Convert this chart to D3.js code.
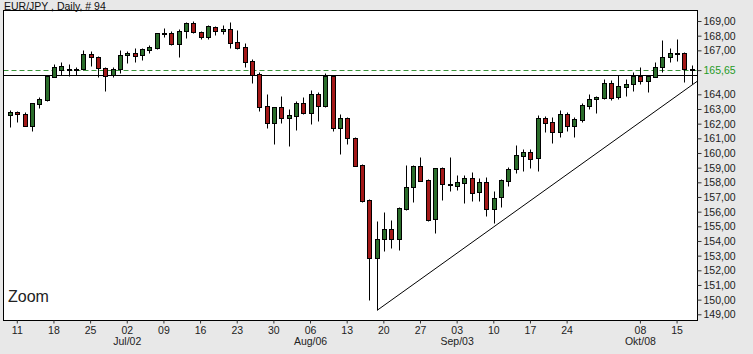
<!DOCTYPE html>
<html>
<head>
<meta charset="utf-8">
<script src="https://cdn.jsdelivr.net/npm/d3@7"></script>
<style>
  body { margin: 0; background: #e8e8e8; }
  text { font-family: "Liberation Sans", Arial, sans-serif; }
</style>
</head>
<body>
<div id="chart"></div>
<script>
// Daily candles: [date, open, high, low, close]
const ohlc = [
  ["2007-06-08", 162.57, 162.93, 161.80, 162.79],
  ["2007-06-11", 162.79, 162.86, 162.13, 162.64],
  ["2007-06-12", 162.66, 162.77, 161.84, 161.86],
  ["2007-06-13", 161.86, 163.40, 161.52, 163.39],
  ["2007-06-14", 163.34, 163.80, 163.09, 163.68],
  ["2007-06-15", 163.61, 165.30, 163.57, 165.25],
  ["2007-06-18", 165.18, 166.07, 165.16, 165.88],
  ["2007-06-19", 165.64, 166.20, 165.32, 165.93],
  ["2007-06-20", 165.64, 166.07, 165.25, 165.70],
  ["2007-06-21", 165.64, 165.88, 165.32, 165.75],
  ["2007-06-22", 165.70, 167.02, 165.66, 166.75],
  ["2007-06-25", 166.75, 166.95, 165.93, 166.52],
  ["2007-06-26", 166.52, 166.61, 165.16, 165.82],
  ["2007-06-27", 165.82, 165.88, 164.25, 165.25],
  ["2007-06-28", 165.32, 165.88, 165.16, 165.70],
  ["2007-06-29", 165.70, 167.02, 165.48, 166.68],
  ["2007-07-02", 166.66, 166.97, 166.16, 166.84],
  ["2007-07-03", 166.84, 167.18, 166.22, 166.63],
  ["2007-07-04", 166.66, 167.18, 166.34, 167.09],
  ["2007-07-05", 167.02, 167.34, 166.80, 167.23],
  ["2007-07-06", 167.18, 168.18, 167.07, 168.16],
  ["2007-07-09", 168.20, 168.54, 167.93, 168.16],
  ["2007-07-10", 168.16, 168.34, 167.38, 167.41],
  ["2007-07-11", 167.41, 168.43, 166.52, 168.34],
  ["2007-07-12", 168.34, 168.91, 167.82, 168.84],
  ["2007-07-13", 168.84, 169.00, 168.16, 168.23],
  ["2007-07-16", 168.25, 168.34, 167.75, 167.89],
  ["2007-07-17", 167.89, 168.73, 167.75, 168.66],
  ["2007-07-18", 168.61, 168.66, 168.05, 168.34],
  ["2007-07-19", 168.34, 168.73, 168.09, 168.43],
  ["2007-07-20", 168.43, 168.91, 167.18, 167.52],
  ["2007-07-23", 167.55, 168.39, 167.07, 167.18],
  ["2007-07-24", 167.21, 167.48, 165.88, 166.22],
  ["2007-07-25", 166.27, 166.39, 164.75, 165.32],
  ["2007-07-26", 165.39, 165.54, 162.88, 163.16],
  ["2007-07-27", 163.20, 164.00, 161.68, 162.07],
  ["2007-07-30", 162.07, 163.14, 160.61, 163.11],
  ["2007-07-31", 163.11, 163.89, 162.07, 162.36],
  ["2007-08-01", 162.36, 163.00, 160.50, 162.59],
  ["2007-08-02", 162.54, 163.55, 161.57, 163.39],
  ["2007-08-03", 163.39, 163.80, 162.66, 162.75],
  ["2007-08-06", 162.75, 164.30, 161.98, 164.00],
  ["2007-08-07", 164.00, 164.14, 162.20, 163.22],
  ["2007-08-08", 163.20, 165.43, 163.11, 165.27],
  ["2007-08-09", 165.27, 165.30, 161.52, 161.68],
  ["2007-08-10", 161.68, 162.66, 159.93, 162.36],
  ["2007-08-13", 162.36, 162.43, 160.61, 161.00],
  ["2007-08-14", 161.00, 161.07, 159.11, 159.13],
  ["2007-08-15", 159.18, 159.23, 156.68, 156.73],
  ["2007-08-16", 156.79, 156.86, 149.97, 152.86],
  ["2007-08-17", 152.86, 155.36, 149.29, 154.11],
  ["2007-08-20", 154.11, 155.96, 153.34, 154.82],
  ["2007-08-21", 154.82, 155.43, 153.50, 154.11],
  ["2007-08-22", 154.11, 156.34, 153.38, 156.27],
  ["2007-08-23", 156.18, 159.18, 156.13, 157.66],
  ["2007-08-24", 157.66, 159.18, 156.64, 159.11],
  ["2007-08-27", 159.11, 159.75, 158.09, 158.11],
  ["2007-08-28", 158.16, 158.20, 155.38, 155.43],
  ["2007-08-29", 155.48, 158.98, 154.56, 158.96],
  ["2007-08-30", 158.96, 159.02, 156.79, 157.86],
  ["2007-08-31", 157.80, 159.70, 157.43, 157.89],
  ["2007-09-03", 157.77, 158.50, 157.48, 158.00],
  ["2007-09-04", 157.98, 158.50, 156.57, 158.27],
  ["2007-09-05", 158.27, 158.68, 156.75, 157.29],
  ["2007-09-06", 157.32, 158.27, 156.75, 158.00],
  ["2007-09-07", 158.00, 158.39, 155.72, 156.16],
  ["2007-09-10", 156.16, 157.41, 155.20, 156.95],
  ["2007-09-11", 156.98, 158.20, 156.34, 158.16],
  ["2007-09-12", 158.11, 159.02, 157.77, 158.93],
  ["2007-09-13", 158.89, 160.55, 158.61, 159.86],
  ["2007-09-14", 159.82, 160.25, 158.79, 160.05],
  ["2007-09-17", 160.05, 160.27, 159.00, 159.61],
  ["2007-09-18", 159.64, 162.59, 158.79, 162.36],
  ["2007-09-19", 162.36, 162.52, 161.41, 162.07],
  ["2007-09-20", 162.09, 162.43, 160.70, 161.41],
  ["2007-09-21", 161.41, 162.93, 161.11, 162.66],
  ["2007-09-24", 162.66, 162.82, 161.52, 161.84],
  ["2007-09-25", 161.84, 162.48, 161.07, 162.30],
  ["2007-09-26", 162.25, 163.43, 162.11, 163.27],
  ["2007-09-27", 163.22, 164.02, 163.00, 163.66],
  ["2007-09-28", 163.66, 163.89, 162.70, 163.80],
  ["2007-10-01", 163.73, 165.05, 163.66, 164.79],
  ["2007-10-02", 164.79, 164.98, 163.61, 163.73],
  ["2007-10-03", 163.84, 165.32, 163.66, 164.57],
  ["2007-10-04", 164.52, 165.05, 163.91, 164.70],
  ["2007-10-05", 164.68, 165.50, 164.23, 165.25],
  ["2007-10-08", 165.25, 165.84, 164.68, 164.93],
  ["2007-10-09", 164.93, 165.32, 164.18, 165.25],
  ["2007-10-10", 165.20, 166.23, 165.16, 165.84],
  ["2007-10-11", 165.84, 167.70, 165.54, 166.52],
  ["2007-10-12", 166.52, 167.14, 166.18, 166.84],
  ["2007-10-15", 166.80, 167.77, 166.27, 166.82],
  ["2007-10-16", 166.80, 166.91, 164.86, 165.71],
  ["2007-10-17", 165.76, 166.00, 164.68, 165.65]
];

// Weekly ticks (Mondays) and their labels
const weekTicks = ["2007-06-11", "2007-06-18", "2007-06-25", "2007-07-02", "2007-07-09", "2007-07-16",
  "2007-07-23", "2007-07-30", "2007-08-06", "2007-08-13", "2007-08-20", "2007-08-27", "2007-09-03",
  "2007-09-10", "2007-09-17", "2007-09-24", "2007-10-08", "2007-10-15"];
const weekLabels = ["11", "18", "25", "02", "09", "16", "23", "30", "06", "13", "20", "27", "03",
  "10", "17", "24", "08", "15"];
const monthTicks = ["2007-07-02", "2007-08-06", "2007-09-03", "2007-10-08"];
const monthLabels = ["Jul/02", "Aug/06", "Sep/03", "Okt/08"];

// Price axis
const yTicks = [149, 150, 151, 152, 153, 154, 155, 156, 157, 158, 159, 160, 161, 162, 163, 164, 167, 168, 169];
const lastPrice = 165.65;
const levelLine = 165.32;
// Trend line anchors: [date, price]
const trendStart = ["2007-08-17", 149.29];
const trendEnd = ["2007-10-17", 164.66];

const W = 753, H = 354;
const plot = { left: 3.5, top: 10.5, right: 697.5, bottom: 320.5 };
const fmt = v => v.toFixed(2).replace(".", ",");

const svg = d3.select("#chart")
    .append("svg")
    .attr("width", W)
    .attr("height", H);

svg.append("rect")
    .attr("width", W).attr("height", H)
    .attr("fill", "#e8e8e8");

// Plot area
svg.append("rect")
    .attr("x", plot.left).attr("y", plot.top)
    .attr("width", plot.right - plot.left)
    .attr("height", plot.bottom - plot.top)
    .attr("fill", "#fff");

const x = d3.scaleBand()
    .domain(ohlc.map(d => d[0]))
    .range([6.3, 695.4])
    .paddingInner(0.32)
    .paddingOuter(0.16);

const y = d3.scaleLinear()
    .domain([149, 169])
    .range([314.3, 21]);

const cx = d => Math.round(x(d) + x.bandwidth() / 2);
const py = v => Math.round(y(v)) + 0.5;

// Level lines
svg.append("line")
    .attr("x1", plot.left).attr("x2", plot.right)
    .attr("y1", py(lastPrice)).attr("y2", py(lastPrice))
    .attr("stroke", "#3a923a")
    .attr("stroke-dasharray", "5,3");

svg.append("line")
    .attr("x1", plot.left).attr("x2", plot.right)
    .attr("y1", py(levelLine)).attr("y2", py(levelLine))
    .attr("stroke", "#000");

// Trend line, extended to the right edge of the plot
const tx1 = cx(trendStart[0]) + 0.5, ty1 = y(trendStart[1]);
const tx2 = cx(trendEnd[0]) + 0.5, ty2 = y(trendEnd[1]);
const slope = (ty2 - ty1) / (tx2 - tx1);
svg.append("line")
    .attr("x1", tx1).attr("y1", ty1)
    .attr("x2", plot.right).attr("y2", ty1 + slope * (plot.right - tx1))
    .attr("stroke", "#000");

// Candles
const candles = svg.append("g")
    .selectAll("g")
    .data(ohlc)
    .enter()
    .append("g");

candles.append("line")
    .attr("x1", d => cx(d[0]) + 0.5)
    .attr("x2", d => cx(d[0]) + 0.5)
    .attr("y1", d => py(d[2]))
    .attr("y2", d => py(d[3]))
    .attr("stroke", "#000");

candles.append("rect")
    .attr("x", d => cx(d[0]) - 1.5)
    .attr("width", 4)
    .attr("y", d => py(Math.max(d[1], d[4])))
    .attr("height", d => Math.max(1, py(Math.min(d[1], d[4])) - py(Math.max(d[1], d[4]))))
    .attr("fill", d => d[4] >= d[1] ? "#2b6d2b" : "#a31818")
    .attr("stroke", "#000");

// Plot border
svg.append("rect")
    .attr("x", plot.left).attr("y", plot.top)
    .attr("width", plot.right - plot.left)
    .attr("height", plot.bottom - plot.top)
    .attr("fill", "none")
    .attr("stroke", "#000");

// Right price axis
const yAxis = svg.append("g")
    .attr("transform", `translate(${plot.right},0)`)
    .call(d3.axisRight(y).tickValues(yTicks).tickSize(4).tickPadding(2).tickFormat(fmt));
yAxis.select(".domain").remove();
yAxis.selectAll("text").attr("fill", "#222").style("font-size", "10.5px");
yAxis.selectAll("line").attr("stroke", "#333");

const lastTick = svg.append("g")
    .attr("transform", `translate(${plot.right},0)`)
    .call(d3.axisRight(y).tickValues([lastPrice]).tickSize(4).tickPadding(2).tickFormat(fmt));
lastTick.select(".domain").remove();
lastTick.selectAll("text").attr("fill", "#1f9a1f").style("font-size", "10.5px");
lastTick.selectAll("line").attr("stroke", "#333");

// Bottom date axis
const xAxis = svg.append("g")
    .attr("transform", `translate(0,${plot.bottom})`)
    .call(d3.axisBottom(x).tickValues(weekTicks).tickSize(3).tickPadding(3)
        .tickFormat(d => weekLabels[weekTicks.indexOf(d)]));
xAxis.select(".domain").remove();
xAxis.selectAll("text").attr("fill", "#222").style("font-size", "10.5px");
xAxis.selectAll("line").attr("stroke", "#333");

svg.append("g")
    .selectAll("text")
    .data(monthTicks)
    .enter()
    .append("text")
    .attr("x", d => x(d) + x.bandwidth() / 2)
    .attr("y", 345)
    .attr("text-anchor", "middle")
    .attr("fill", "#222")
    .style("font-size", "10.5px")
    .text((d, i) => monthLabels[i]);

// Title and zoom caption
svg.append("text")
    .attr("x", 4).attr("y", 9.5)
    .attr("fill", "#111")
    .style("font-size", "10.5px")
    .text("EUR/JPY , Daily, # 94");

svg.append("text")
    .attr("x", 8).attr("y", 302)
    .attr("fill", "#222")
    .style("font-size", "16px")
    .text("Zoom");
</script>
</body>
</html>
